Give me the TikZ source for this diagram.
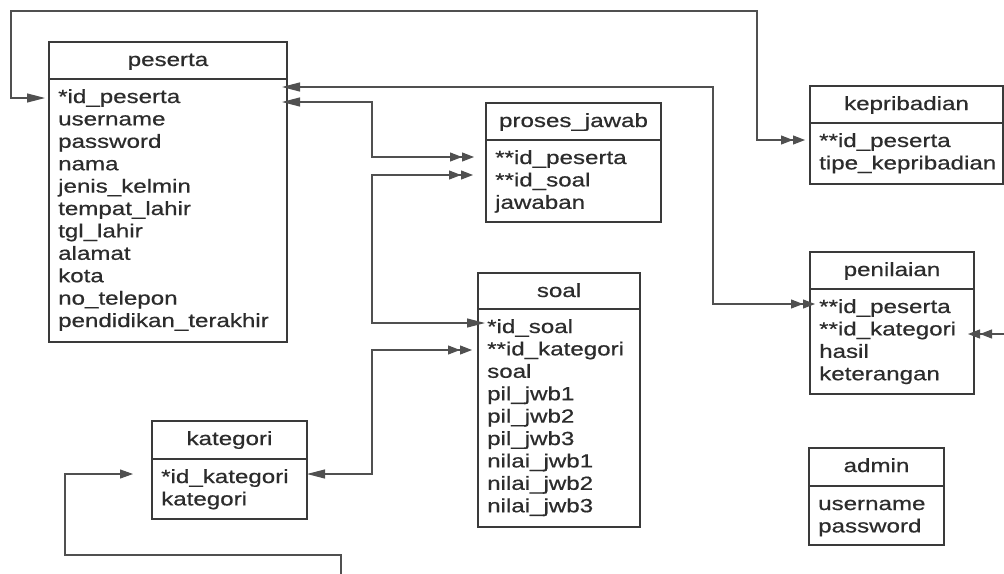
\documentclass[tikz,border=0pt]{standalone}
\usepackage{fontspec}
\setmainfont[FakeStretch=1.27,FakeBold=0.6]{Liberation Sans}
\usetikzlibrary{arrows.meta}

\definecolor{inkc}{RGB}{44,44,44}
\definecolor{framec}{RGB}{58,58,58}
\definecolor{wirec}{RGB}{80,80,80}

\tikzset{
  onetip/.tip={Triangle[length=18pt,width=9pt]},
  shorttip/.tip={Triangle[length=13pt,width=9pt]},
  manytip/.tip={Triangle[length=12pt,width=9pt]Triangle[length=12pt,width=9pt]},
  tbox/.style={draw=framec, line width=1.8pt, rectangle, inner sep=0pt, outer sep=0pt, anchor=north west},
  boxline/.style={draw=framec, line width=1.8pt},
  ttitle/.style={anchor=base, inner sep=0pt, text=inkc, font=\fontsize{19}{22}\selectfont},
  trow/.style={anchor=base west, inner sep=0pt, text=inkc, font=\fontsize{19}{22}\selectfont},
  conn/.style={draw=wirec, line width=1.1pt},
}

% \erdtable{name}{left}{top}{width}{divider y}{bottom}{title}{rows}
\newcommand\erdtable[8]{%
  \node[tbox, minimum width=#4pt, minimum height={(#6-#3)*1pt}] (#1) at (#2,#3) {};
  \node[ttitle] (#1-title) at ({#2+#4/2},{#3+24}) {#7};
  \draw[boxline] (#1.west |- 0,#5) -- (#1.east |- 0,#5);
  \foreach \r [count=\i] in {#8}
    \node[trow] (#1-r\i) at ({#2+9},{#5+24+22.4*(\i-1)}) {\r};
}

\begin{document}
\begin{tikzpicture}[x=1pt,y=-1pt]
\useasboundingbox (0,0) rectangle (1004,573);
\fill[white] (0,0) rectangle (1004,573);
\clip (0,0) rectangle (1004,573);

% tables
\erdtable{peserta}{49}{42}{238}{79}{342}{peserta}%
  {*id\_peserta,username,password,nama,jenis\_kelmin,tempat\_lahir,tgl\_lahir,alamat,kota,no\_telepon,pendidikan\_terakhir}
\erdtable{pjawab}{486}{103}{175}{140}{222}{proses\_jawab}%
  {**id\_peserta,**id\_soal,jawaban}
\erdtable{kepribadian}{810}{86}{193}{123}{184}{kepribadian}%
  {**id\_peserta,tipe\_kepribadian}
\erdtable{soal}{478}{273}{162}{309}{527}{soal}%
  {*id\_soal,**id\_kategori,soal,pil\_jwb1,pil\_jwb2,pil\_jwb3,nilai\_jwb1,nilai\_jwb2,nilai\_jwb3}
\erdtable{penilaian}{810}{252}{164}{289}{394}{penilaian}%
  {**id\_peserta,**id\_kategori,hasil,keterangan}
\erdtable{admin}{809}{448}{135}{486}{545}{admin}%
  {username,password}
\erdtable{kategori}{152}{421}{155}{459}{519}{kategori}%
  {*id\_kategori,kategori}

% off-page ends of the penilaian -- kategori link
\coordinate (offright) at (1012,334);
\coordinate (offbottom) at (341,580);

% relationships
\draw[conn, onetip-manytip, shorten <=4pt, shorten >=5pt]
  (peserta.west |- 0,98) -| (11,11) -| (757,140) -- (kepribadian.west |- 0,140);
\draw[conn, onetip-manytip, shorten <=-5pt, shorten >=-5pt]
  (peserta.east |- 0,87) -| (713,304) -- (penilaian.west |- 0,304);
\draw[conn, onetip-manytip, shorten <=-5pt, shorten >=12pt]
  (peserta.east |- 0,102) -| (372,157) -- (pjawab.west |- 0,157);
\draw[conn, onetip-manytip, shorten <=-7pt, shorten >=13pt]
  (soal.west |- 0,323) -| (372,175) -- (pjawab.west |- 0,175);
\draw[conn, onetip-manytip, shorten >=6pt]
  (kategori.east |- 0,474) -| (372,350) -- (soal.west |- 0,350);
\draw[conn, -manytip, shorten >=-6pt]
  (offright) -- (penilaian.east |- 0,334);
\draw[conn, -shorttip, shorten >=19pt]
  (offbottom) -- (341,555) -| (65,474) -- (kategori.west |- 0,474);
\end{tikzpicture}
\end{document}
